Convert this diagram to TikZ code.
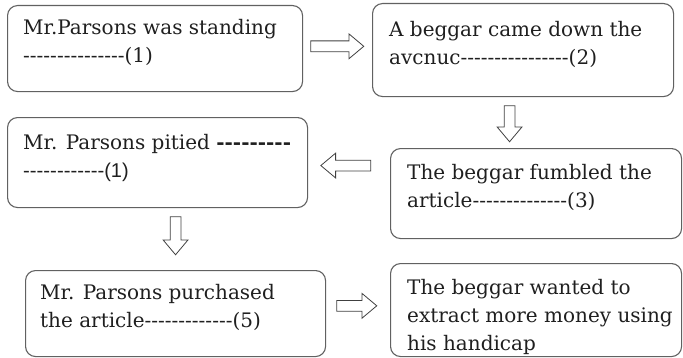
\documentclass[tikz,border=0pt]{standalone}
\usepackage{fontspec}
\newfontfamily\cardfont{DejaVu Serif}
\newfontfamily\numfont{Liberation Sans}
\usetikzlibrary{calc, positioning, shapes.arrows}

\begin{document}
\begin{tikzpicture}[x=1pt, y=1pt]
 % We define the styles for the boxes, their texts and the hollow arrows
 \tikzset{
card/.style = {draw=black!62, rounded corners=10pt, line width=1.1pt, inner sep=0pt, anchor=north west},
cardtext/.style = {inner sep=0pt, align=left, text=black!88, font=\cardfont\fontsize{20}{28}\selectfont},
hollow/.style = {draw=black!75, line width=0.8pt, single arrow, single arrow head extend=7pt, single arrow tip angle=80, inner xsep=0pt, inner ysep=5pt, minimum width=24pt, minimum height=#1},
}
 \useasboundingbox (0,0) rectangle (683,357);

 % Mr. Parsons standing
 \node [card, minimum width=295pt, minimum height=86pt] (stand) at (7,352) {};
 \node [cardtext, below right=14pt and 16pt of stand.north west] (standtext) {Mr.Parsons was standing\\---------------(1)};

 % The beggar on the avenue
 \node [card, minimum width=301pt, minimum height=93pt] (avenue) at (372,354) {};
 \node [cardtext, below right=18pt and 17pt of avenue.north west] (avenuetext) {A beggar came down the\\avcnuc----------------(2)};

 % The beggar fumbling
 \node [card, minimum width=291pt, minimum height=90pt] (fumble) at (390,209) {};
 \node [cardtext, below right=16pt and 17pt of fumble.north west] (fumbletext) {The beggar fumbled the\\article--------------(3)};

 % Mr. Parsons pitying
 \node [card, minimum width=300pt, minimum height=90pt] (pitied) at (7,240) {};
 \node [cardtext, below right=17pt and 16pt of pitied.north west] (pitiedtext) {Mr. Parsons pitied \textbf{---------}\\------------{\numfont(1)}};

 % Mr. Parsons purchasing
 \node [card, minimum width=300pt, minimum height=86pt] (purchase) at (25,87) {};
 \node [cardtext, below right=14pt and 15pt of purchase.north west] (purchasetext) {Mr. Parsons purchased\\the article-------------(5)};

 % The beggar's aim
 \node [card, minimum width=291pt, minimum height=93pt] (wanted) at (390,94) {};
 \node [cardtext, below right=16pt and 17pt of wanted.north west] (wantedtext) {The beggar wanted to\\extract more money using\\his handicap};

 % Hollow arrows between the boxes
 \node [hollow=53pt] (standtoavenue) at ($(stand.east)!0.5!(avenue.west)+(-3.5,3)$) {};
 \node [hollow=36pt, rotate=-90] (avenuetofumble) at ($(avenue.south)!0.5!(fumble.north)+(-20,2)$) {};
 \node [hollow=50pt, rotate=180] (fumbletopitied) at ($(pitied.east)!0.5!(pitied.east -| fumble.west)+(0,-3)$) {};
 \node [hollow=38pt, rotate=-90] (pitiedtopurchase) at ($(pitied.south -| purchase.north)!0.5!(purchase.north)+(0,6.5)$) {};
 \node [hollow=40pt] (purchasetowanted) at ($(purchase.east)!0.5!(wanted.west)+(-4.5,6)$) {};

\end{tikzpicture}
\end{document}
